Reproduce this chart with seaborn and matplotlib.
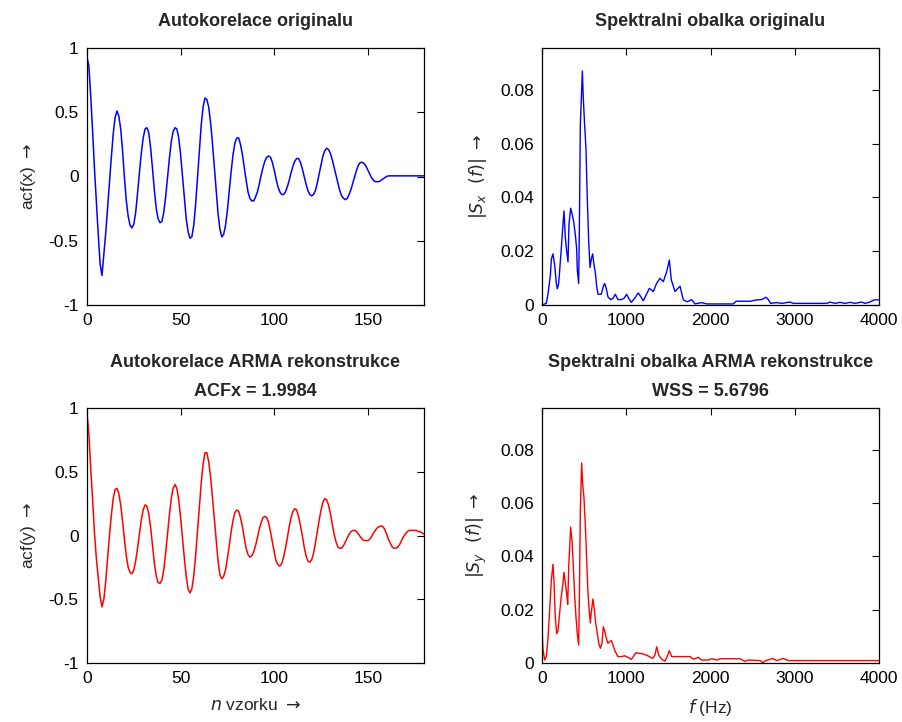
import numpy as np
import pandas as pd
import matplotlib
matplotlib.use("Agg")
import matplotlib.pyplot as plt
import seaborn as sns
from matplotlib.ticker import FixedLocator, FuncFormatter

# ---------------- data ----------------
acf_x = [
    0.93, 0.86, 0.62, 0.35, 0.06, -0.20, -0.45, -0.68, -0.77, -0.60,
    -0.44, -0.24, -0.05, 0.15, 0.33, 0.46, 0.51, 0.47, 0.37, 0.20,
    -0.01, -0.19, -0.31, -0.38, -0.40, -0.37, -0.28, -0.13, 0.03, 0.18,
    0.30, 0.37, 0.38, 0.34, 0.22, 0.06, -0.11, -0.25, -0.33, -0.36,
    -0.35, -0.28, -0.16, -0.01, 0.14, 0.27, 0.35, 0.38, 0.37, 0.30,
    0.17, 0.00, -0.18, -0.33, -0.43, -0.48, -0.47, -0.38, -0.22, -0.01,
    0.20, 0.40, 0.54, 0.61, 0.60, 0.54, 0.42, 0.26, 0.08, -0.11,
    -0.29, -0.41, -0.47, -0.45, -0.38, -0.26, -0.11, 0.04, 0.17, 0.26,
    0.30, 0.30, 0.25, 0.17, 0.07, -0.03, -0.12, -0.17, -0.19, -0.19,
    -0.16, -0.12, -0.06, 0.01, 0.07, 0.12, 0.15, 0.16, 0.15, 0.11,
    0.05, -0.02, -0.08, -0.12, -0.14, -0.14, -0.12, -0.08, -0.03, 0.03,
    0.08, 0.12, 0.14, 0.14, 0.11, 0.06, 0.00, -0.06, -0.11, -0.14,
    -0.15, -0.14, -0.11, -0.05, 0.02, 0.09, 0.16, 0.20, 0.22, 0.21,
    0.18, 0.13, 0.07, 0.01, -0.05, -0.11, -0.15, -0.17, -0.18, -0.17,
    -0.14, -0.10, -0.05, 0.00, 0.05, 0.09, 0.11, 0.11, 0.10, 0.08,
    0.05, 0.02, -0.01, -0.03, -0.04, -0.04, -0.04, -0.03, -0.02, -0.01,
    0.00, 0.005, 0.005, 0.005, 0.005, 0.005, 0.005, 0.005, 0.005, 0.005,
    0.005, 0.005, 0.005, 0.005, 0.005, 0.005, 0.005, 0.005, 0.005, 0.005,
    0.005,
]

acf_y = [
    0.96, 0.80, 0.52, 0.28, 0.02, -0.18, -0.33, -0.48, -0.56, -0.50,
    -0.36, -0.18, 0.00, 0.16, 0.29, 0.36, 0.37, 0.33, 0.24, 0.11,
    -0.03, -0.16, -0.25, -0.29, -0.30, -0.27, -0.20, -0.10, 0.01, 0.12,
    0.20, 0.24, 0.23, 0.17, 0.06, -0.08, -0.22, -0.32, -0.37, -0.375,
    -0.35, -0.27, -0.14, 0.01, 0.16, 0.29, 0.37, 0.40, 0.37, 0.28,
    0.14, -0.02, -0.18, -0.32, -0.42, -0.45, -0.42, -0.32, -0.16, 0.03,
    0.22, 0.41, 0.56, 0.65, 0.65, 0.58, 0.46, 0.30, 0.13, -0.05,
    -0.20, -0.31, -0.34, -0.32, -0.27, -0.18, -0.08, 0.03, 0.12, 0.18,
    0.20, 0.19, 0.14, 0.07, -0.02, -0.10, -0.15, -0.17, -0.16, -0.13,
    -0.08, -0.02, 0.05, 0.10, 0.14, 0.15, 0.14, 0.10, 0.03, -0.05,
    -0.13, -0.20, -0.23, -0.24, -0.22, -0.17, -0.10, -0.02, 0.07, 0.14,
    0.19, 0.21, 0.20, 0.15, 0.08, 0.00, -0.09, -0.16, -0.20, -0.21,
    -0.19, -0.14, -0.06, 0.03, 0.12, 0.20, 0.26, 0.29, 0.28, 0.24,
    0.17, 0.09, 0.01, -0.05, -0.09, -0.10, -0.10, -0.08, -0.05, -0.02,
    0.01, 0.03, 0.04, 0.04, 0.03, 0.01, -0.01, -0.03, -0.04, -0.04,
    -0.04, -0.03, -0.01, 0.02, 0.04, 0.06, 0.07, 0.075, 0.07, 0.05,
    0.01, -0.03, -0.06, -0.09, -0.10, -0.10, -0.09, -0.07, -0.04, -0.01,
    0.01, 0.03, 0.04, 0.04, 0.04, 0.04, 0.04, 0.03, 0.03, 0.02,
    0.01,
]

spec_x_freq = [
    0, 51, 71, 99, 111, 130, 150, 170, 182, 198, 210, 229, 249, 261, 277, 293,
    309, 320, 340, 356, 376, 396, 411, 419, 435, 443, 455, 467, 479, 490, 506,
    522, 538, 554, 570, 585, 601, 617, 633, 649, 665, 684, 704, 728, 744, 764,
    783, 815, 843, 870, 902, 942, 974, 1005, 1029, 1060, 1100, 1143, 1203,
    1274, 1321, 1361, 1400, 1440, 1480, 1511, 1535, 1579, 1638, 1677, 1725,
    1776, 1816, 1895, 1954, 2271, 2302, 2468, 2548, 2607, 2659, 2686, 2714,
    2785, 2845, 2904, 2944, 2983, 3379, 3419, 3478, 3537, 3597, 3656, 3715,
    3794, 3834, 3893, 3941, 4000,
]
spec_x_val = [
    0.0, 0.0006, 0.004, 0.011, 0.017, 0.019, 0.015, 0.008, 0.006, 0.008,
    0.013, 0.021, 0.030, 0.035, 0.025, 0.020, 0.016, 0.030, 0.036, 0.034,
    0.031, 0.026, 0.021, 0.013, 0.008, 0.027, 0.067, 0.077, 0.087, 0.077,
    0.067, 0.058, 0.039, 0.024, 0.014, 0.017, 0.019, 0.015, 0.012, 0.007,
    0.004, 0.004, 0.004, 0.007, 0.008, 0.006, 0.003, 0.002, 0.0025, 0.004,
    0.002, 0.002, 0.0025, 0.004, 0.0025, 0.001, 0.0025, 0.0045, 0.0016,
    0.0062, 0.005, 0.0081, 0.0099, 0.0087, 0.0124, 0.0167, 0.0093, 0.005,
    0.007, 0.0019, 0.0012, 0.002, 0.0004, 0.0009, 0.0004, 0.0004, 0.0014,
    0.0014, 0.0019, 0.002, 0.0029, 0.002, 0.0006, 0.0009, 0.0006, 0.0009,
    0.0011, 0.0006, 0.0006, 0.0011, 0.0006, 0.001, 0.0006, 0.001, 0.0006,
    0.0011, 0.0006, 0.0011, 0.0019, 0.0019,
]

spec_y_freq = [
    0, 12, 32, 51, 71, 91, 111, 130, 142, 158, 174, 190, 210, 229, 249, 261,
    277, 293, 305, 317, 328, 340, 356, 372, 388, 404, 419, 435, 443, 455, 471,
    483, 498, 514, 530, 546, 562, 574, 585, 605, 621, 637, 657, 673, 692, 712,
    728, 744, 764, 783, 803, 823, 843, 870, 902, 942, 981, 1021, 1060, 1084,
    1116, 1155, 1203, 1262, 1313, 1341, 1361, 1385, 1420, 1460, 1488, 1511,
    1539, 1757, 1796, 1856, 1895, 1974, 2014, 2081, 2113, 2350, 2409, 2449,
    2587, 2619, 2659, 2738, 2785, 2864, 2924, 4000,
]
spec_y_val = [
    0.013, 0.0049, 0.0011, 0.0024, 0.0092, 0.020, 0.031, 0.037, 0.031, 0.017,
    0.011, 0.012, 0.019, 0.025, 0.030, 0.034, 0.030, 0.026, 0.022, 0.036,
    0.043, 0.051, 0.046, 0.036, 0.025, 0.017, 0.011, 0.0067, 0.023, 0.057,
    0.075, 0.067, 0.062, 0.052, 0.039, 0.026, 0.019, 0.015, 0.019, 0.024,
    0.020, 0.015, 0.011, 0.0074, 0.0055, 0.0074, 0.0136, 0.012, 0.0092, 0.0074,
    0.008, 0.0084, 0.0067, 0.0042, 0.0024, 0.0024, 0.0027, 0.0021, 0.0014,
    0.0024, 0.0039, 0.0036, 0.0034, 0.0026, 0.0017, 0.003, 0.0061, 0.003,
    0.0014, 0.0007, 0.0026, 0.0046, 0.0024, 0.0024, 0.0014, 0.0021, 0.0011,
    0.0011, 0.0016, 0.0011, 0.0016, 0.0016, 0.0006, 0.0011, 0.0009, 0.0002,
    0.0009, 0.0017, 0.0009, 0.0017, 0.0009, 0.0009,
]

titles = ["Autokorelace originalu", "Spektralni obalka originalu",
          "Autokorelace ARMA rekonstrukce\nACFx = 1.9984",
          "Spektralni obalka ARMA rekonstrukce\nWSS = 5.6796"]
acf_ticks = [-1, -0.5, 0, 0.5, 1]
lag_ticks = [0, 50, 100, 150]
spec_ticks = [0, 0.02, 0.04, 0.06, 0.08]
freq_ticks = [0, 1000, 2000, 3000, 4000]

ARROW = r"$\rightarrow$"

# ---------------- style ----------------
sns.set_style("white")
plt.rcParams["font.family"] = ["Liberation Sans", "DejaVu Sans"]
plt.rcParams["axes.unicode_minus"] = False
plt.rcParams["mathtext.fontset"] = "dejavusans"

fig = plt.figure(figsize=(9.02, 7.22), dpi=100)
W, H = 902, 722
def pos(l, t, r, b):
    return [l / W, 1 - b / H, (r - l) / W, (b - t) / H]

ax1 = fig.add_axes(pos(87, 48, 424, 305))
ax2 = fig.add_axes(pos(542, 48, 879, 305))
ax3 = fig.add_axes(pos(87, 408, 424, 663))
ax4 = fig.add_axes(pos(542, 408, 879, 663))

def fmt(v, p):
    return "%g" % v

sns.lineplot(x=np.arange(len(acf_x)), y=acf_x, ax=ax1, color=(0, 0, 1),
             lw=1.1, estimator=None, sort=False)
sns.lineplot(x=spec_x_freq, y=spec_x_val, ax=ax2, color=(0, 0, 1),
             lw=1.0, estimator=None, sort=False)
sns.lineplot(x=np.arange(len(acf_y)), y=acf_y, ax=ax3, color=(1, 0, 0),
             lw=1.1, estimator=None, sort=False)
sns.lineplot(x=spec_y_freq, y=spec_y_val, ax=ax4, color=(1, 0, 0),
             lw=1.0, estimator=None, sort=False)

for ax in (ax1, ax3):
    ax.set_xlim(0, 180)
    ax.set_ylim(-1, 1)
    ax.xaxis.set_major_locator(FixedLocator(lag_ticks))
    ax.yaxis.set_major_locator(FixedLocator(acf_ticks))
for ax in (ax2, ax4):
    ax.set_xlim(0, 4000)
    ax.set_ylim(0, 0.0956)
    ax.xaxis.set_major_locator(FixedLocator(freq_ticks))
    ax.yaxis.set_major_locator(FixedLocator(spec_ticks))

for ax, t in zip((ax1, ax2, ax3, ax4), titles):
    ax.xaxis.set_major_formatter(FuncFormatter(fmt))
    ax.yaxis.set_major_formatter(FuncFormatter(fmt))
    ax.tick_params(direction="in", length=5, width=0.8, top=True, right=True,
                   labelsize=12.5, pad=6, colors="black")
    for s in ax.spines.values():
        s.set_color("black")
        s.set_linewidth(0.9)
    ax.set_title(t, fontsize=13, fontweight="bold", linespacing=1.9,
                 pad=16 if "\n" not in t else 9)

ax1.set_ylabel("acf(x) " + ARROW, fontsize=12.5, labelpad=8)
ax3.set_ylabel("acf(y) " + ARROW, fontsize=12.5, labelpad=8)
ax2.set_ylabel(r"$|\mathit{S}_{x}\ \ (\mathit{f})|$ " + ARROW, fontsize=12.5, labelpad=8)
ax4.set_ylabel(r"$|\mathit{S}_{y}\ \ (\mathit{f})|$ " + ARROW, fontsize=12.5, labelpad=8)
ax3.set_xlabel(r"$\mathit{n}$ vzorku " + ARROW, fontsize=12.5, labelpad=8)
ax4.set_xlabel(r"$\mathit{f}$ (Hz)", fontsize=12.5, labelpad=8)

fig.savefig("out.png", dpi=100, facecolor="white")
